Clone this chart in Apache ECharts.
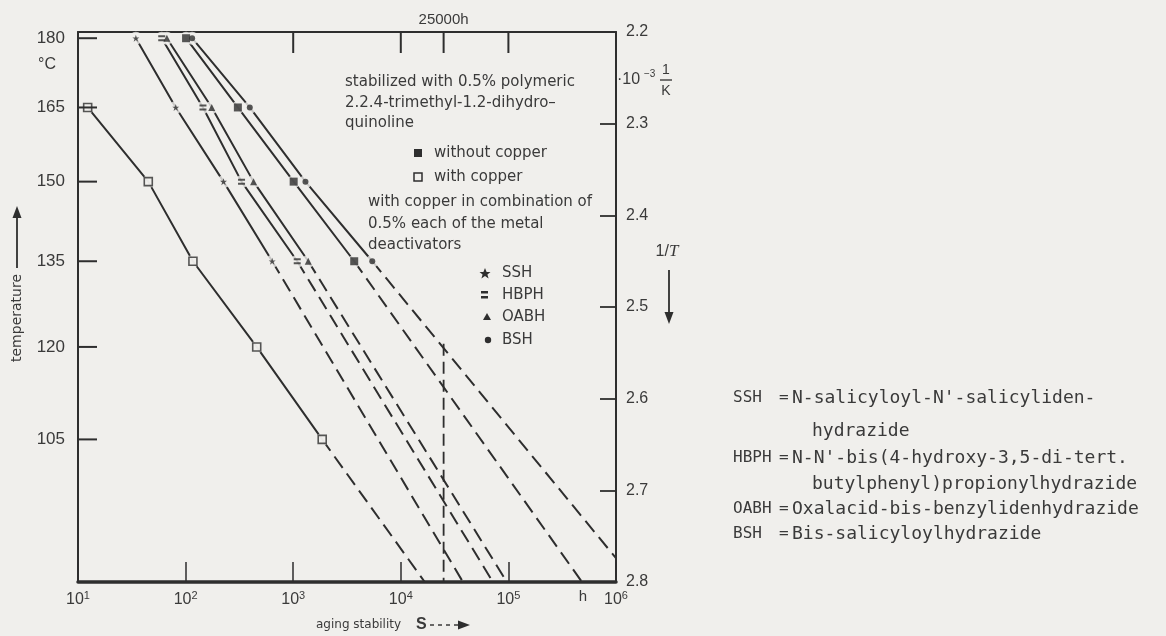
<!DOCTYPE html>
<html><head><meta charset="utf-8">
<script src="https://cdn.jsdelivr.net/npm/echarts@6/dist/echarts.min.js"></script>
<style>html,body{margin:0;padding:0;background:#f0efec;}#c{width:1166px;height:636px;}</style>
</head><body><div id="c"></div>
<script>
// ---------------- data ----------------
const tempLabels   = [180, 165, 150, 135, 120, 105];      // left axis, °C
const tempsMain    = [180, 165, 150, 135];                 // measured temperatures
const tempsCopper  = [165, 150, 135, 120, 105];
const withoutCopper = [101, 306, 1010, 3690];              // aging stability, h
const withCopper    = [12.3, 45, 117, 458, 1860];
const ssh  = [34.5, 81, 225, 638];
const hbph = [60, 145, 331, 1090];
const oabh = [67, 175, 428, 1380];
const bsh  = [115, 395, 1300, 5430];
// end points of dashed extrapolations: [h, 1/T (10^-3 1/K)]
const endWithoutCopper = [483000, 2.8];
const endWithCopper    = [16700, 2.8];
const endSSH  = [37800, 2.8];
const endHBPH = [71800, 2.8];
const endOABH = [96800, 2.8];
const endBSH  = [1000000, 2.774];
const markTime = 25000;             // h
const markLineFrom = 2.54;          // 1/T where the 25000 h line starts
const topTicks = [1000, 10000, 25000, 100000];
const invTicks = [2.2, 2.8];        // right axis range

// ---------------- styling ----------------
const BG = '#f0efec', INK = '#2e2e2e', TXT = '#3a3a3a';
const SANS = '"Liberation Sans", Arial, sans-serif';
const DJ = '"DejaVu Sans", sans-serif';
const MONO = '"DejaVu Sans Mono", monospace';
const invT = T => 1000 / (T + 273.15);
const STAR = 'path://M50,2 L62,38 L98,38 L69,60 L80,96 L50,74 L20,96 L31,60 L2,38 L38,38 Z';
const EQ = 'path://M0,0H12V4H0Z M0,8H12V12H0Z';

const curves = [
  {name:'without copper', times:withoutCopper, temps:tempsMain, end:endWithoutCopper, symbol:'rect', size:8, fill:INK, border:0},
  {name:'with copper', times:withCopper, temps:tempsCopper, end:endWithCopper, symbol:'rect', size:8, fill:BG, border:1.6},
  {name:'SSH', times:ssh, temps:tempsMain, end:endSSH, symbol:STAR, size:7, fill:INK, border:0},
  {name:'HBPH', times:hbph, temps:tempsMain, end:endHBPH, symbol:EQ, size:[7,6], fill:INK, border:0},
  {name:'OABH', times:oabh, temps:tempsMain, end:endOABH, symbol:'triangle', size:7, fill:INK, border:0},
  {name:'BSH', times:bsh, temps:tempsMain, end:endBSH, symbol:'circle', size:6, fill:INK, border:0}
];

const series = [];
curves.forEach(c => {
  const pts = c.times.map((t, i) => [t, invT(c.temps[i])]);
  series.push({type:'line', name:c.name, data:pts, showSymbol:false, z:2, silent:true,
    lineStyle:{color:INK, width:2}});
  series.push({type:'line', name:c.name + ' extrapolated', data:[pts[pts.length-1], c.end], showSymbol:false, z:2, silent:true,
    lineStyle:{color:INK, width:2, type:[14,7]}});
  series.push({type:'scatter', data:pts, symbol:'circle', symbolSize:13, z:3, silent:true,
    itemStyle:{color:BG}});
  series.push({type:'scatter', data:pts, symbol:c.symbol, symbolSize:c.size, z:4, silent:true,
    itemStyle:{color:c.fill, borderColor:INK, borderWidth:c.border}});
});
// vertical 25000 h line
series.push({type:'line', data:[[markTime, markLineFrom],[markTime, invTicks[1]]], showSymbol:false, z:2, silent:true,
  lineStyle:{color:INK, width:1.8, type:[12,6]}});
// temperature ticks + labels on the left (placed at 1/T)
series.push({type:'custom', coordinateSystem:'cartesian2d', silent:true, clip:false, z:5,
  data: tempLabels.map(T => [10, invT(T)]),
  renderItem: (params, api) => {
    const p = api.coord([api.value(0), api.value(1)]);
    return {type:'group', children:[
      {type:'line', shape:{x1:p[0], y1:p[1], x2:p[0]+19, y2:p[1]}, style:{stroke:INK, lineWidth:2}},
      {type:'text', x:p[0]-13, y:p[1], style:{text:String(tempLabels[params.dataIndex]), fill:TXT,
        fontSize:17, fontFamily:SANS, align:'right', verticalAlign:'middle', textAlign:'right', textVerticalAlign:'middle'}}
    ]};
  }});
// top ticks + 25000h label
series.push({type:'custom', coordinateSystem:'cartesian2d', silent:true, clip:false, z:5,
  data: topTicks.map(t => [t, invTicks[0]]),
  renderItem: (params, api) => {
    const t = api.value(0);
    const p = api.coord([t, api.value(1)]);
    const ch = [{type:'line', shape:{x1:p[0], y1:p[1], x2:p[0], y2:p[1]+21}, style:{stroke:INK, lineWidth:2}}];
    if (t === markTime) ch.push({type:'text', x:p[0], y:p[1]-12, style:{text: markTime + 'h', fill:TXT,
      fontSize:15, fontFamily:SANS, align:'center', verticalAlign:'middle', textAlign:'center', textVerticalAlign:'middle'}});
    return {type:'group', children:ch};
  }});

function txt(x, y, text, size, family, extra, rot) {
  const el = {type:'text', x:x, y:y, silent:true,
    style:Object.assign({text:text, fill:TXT, fontSize:size, fontFamily:family, align:'left', verticalAlign:'middle',
      textAlign:'left', textVerticalAlign:'middle'}, extra || {})};
  if (rot) el.rotation = rot;
  return el;
}
const ln = (x1,y1,x2,y2,w,dash) => ({type:'line', silent:true, shape:{x1,y1,x2,y2}, style:{stroke:INK, lineWidth:w||1.5, lineDash:dash||null}});
const poly = (pts) => ({type:'polygon', silent:true, shape:{points:pts}, style:{fill:INK}});

const graphic = [
  txt(47, 65, '°C', 16, SANS, {align:'center', textAlign:'center'}),
  // left axis name
  txt(17, 318, 'temperature', 14, DJ, {align:'center', textAlign:'center'}, Math.PI/2),
  ln(17, 268, 17, 216, 1.8), poly([[17,206],[12.5,218],[21.5,218]]),
  // right axis unit
  txt(617, 80, '·10', 16, SANS), txt(644, 74, '−3', 10, SANS),
  txt(666, 70, '1', 14, SANS, {align:'center', textAlign:'center'}),
  ln(660, 80, 672, 80, 1.3),
  txt(666, 91, 'K', 14, SANS, {align:'center', textAlign:'center'}),
  // 1/T arrow
  {type:'text', x:667, y:252, silent:true, style:{text:'1/{i|T}', fill:TXT, fontSize:16, fontFamily:SANS,
    align:'center', verticalAlign:'middle', textAlign:'center', textVerticalAlign:'middle',
    rich:{i:{fontStyle:'italic', fontSize:17, fontFamily:'"Liberation Serif", serif', fill:TXT}}}},
  ln(669, 270, 669, 314, 1.8), poly([[669,324],[664.5,312],[673.5,312]]),
  // bottom axis name
  txt(316, 625, 'aging stability', 12, DJ),
  txt(416, 625, 'S', 16, SANS, {fontWeight:'bold'}),
  ln(430, 625, 458, 625, 1.4, [4,4]), poly([[470,625],[458,620.5],[458,629.5]]),
  txt(583, 597, 'h', 15, SANS, {align:'center', textAlign:'center'}),
  // annotation
  txt(345, 82, 'stabilized with 0.5% polymeric', 15, DJ),
  txt(345, 103, '2.2.4-trimethyl-1.2-dihydro–', 15, DJ),
  txt(345, 123, 'quinoline', 15, DJ),
  {type:'rect', silent:true, shape:{x:414, y:149, width:8, height:8}, style:{fill:INK}},
  txt(434, 153, 'without copper', 15, DJ),
  {type:'rect', silent:true, shape:{x:414, y:173, width:8, height:8}, style:{fill:'none', stroke:INK, lineWidth:1.5}},
  txt(434, 177, 'with copper', 15, DJ),
  txt(368, 202, 'with copper in combination of', 15, DJ),
  txt(368, 224, '0.5% each of the metal', 15, DJ),
  txt(368, 245, 'deactivators', 15, DJ),
  poly([[485,268],[486.6,272],[490.5,272],[487.4,274.6],[488.6,278.4],[485,276],[481.4,278.4],[482.6,274.6],[479.5,272],[483.4,272]]),
  txt(502, 273, 'SSH', 15, DJ),
  {type:'rect', silent:true, shape:{x:481, y:291, width:7, height:2.5}, style:{fill:INK}},
  {type:'rect', silent:true, shape:{x:481, y:296, width:7, height:2.5}, style:{fill:INK}},
  txt(502, 295, 'HBPH', 15, DJ),
  poly([[487,313],[483,320],[491,320]]),
  txt(502, 317, 'OABH', 15, DJ),
  {type:'circle', silent:true, shape:{cx:488, cy:340, r:3.2}, style:{fill:INK}},
  txt(502, 340, 'BSH', 15, DJ),
  // definitions
  txt(733, 398, 'SSH', 16, MONO), txt(779, 398, '=', 16, MONO), txt(792, 398, "N-salicyloyl-N'-salicyliden-", 18, MONO),
  txt(812, 431, 'hydrazide', 18, MONO),
  txt(733, 458, 'HBPH', 16, MONO), txt(779, 458, '=', 16, MONO), txt(792, 458, "N-N'-bis(4-hydroxy-3,5-di-tert.", 18, MONO),
  txt(812, 484, 'butylphenyl)propionylhydrazide', 18, MONO),
  txt(733, 509, 'OABH', 16, MONO), txt(779, 509, '=', 16, MONO), txt(792, 509, 'Oxalacid-bis-benzylidenhydrazide', 18, MONO),
  txt(733, 534, 'BSH', 16, MONO), txt(779, 534, '=', 16, MONO), txt(792, 534, 'Bis-salicyloylhydrazide', 18, MONO)
];

const chart = echarts.init(document.getElementById('c'), null, {renderer:'canvas'});
chart.setOption({
  backgroundColor: BG,
  animation: false,
  grid: {left:78, right:550, top:32, bottom:54, containLabel:false},
  xAxis: [
    {type:'log', logBase:10, min:10, max:1e6, position:'bottom',
     axisLine:{onZero:false, lineStyle:{color:INK, width:3.5}},
     axisTick:{inside:true, length:20, lineStyle:{color:INK, width:1.5}},
     splitLine:{show:false},
     axisLabel:{margin:8, color:TXT, fontFamily:SANS, fontSize:16,
       formatter: v => '10{s|' + Math.round(Math.log10(v)) + '}',
       rich:{s:{fontSize:11, fontFamily:SANS, color:TXT, padding:[0,0,8,0]}}}},
    {type:'log', logBase:10, min:10, max:1e6, position:'top',
     axisLine:{onZero:false, lineStyle:{color:INK, width:2}}, axisTick:{show:false}, axisLabel:{show:false}, splitLine:{show:false}}
  ],
  yAxis: [
    {type:'value', min:invTicks[0], max:invTicks[1], inverse:true, position:'left',
     axisLine:{show:true, onZero:false, lineStyle:{color:INK, width:2}}, axisTick:{show:false}, axisLabel:{show:false}, splitLine:{show:false}},
    {type:'value', min:invTicks[0], max:invTicks[1], interval:0.1, inverse:true, position:'right',
     axisLine:{show:true, onZero:false, lineStyle:{color:INK, width:2}},
     axisTick:{show:true, inside:true, length:16, lineStyle:{color:INK, width:1.8}},
     axisLabel:{margin:10, color:TXT, fontFamily:SANS, fontSize:16, formatter: v => v.toFixed(1)},
     splitLine:{show:false}}
  ],
  series: series,
  graphic: graphic
});
</script></body></html>
